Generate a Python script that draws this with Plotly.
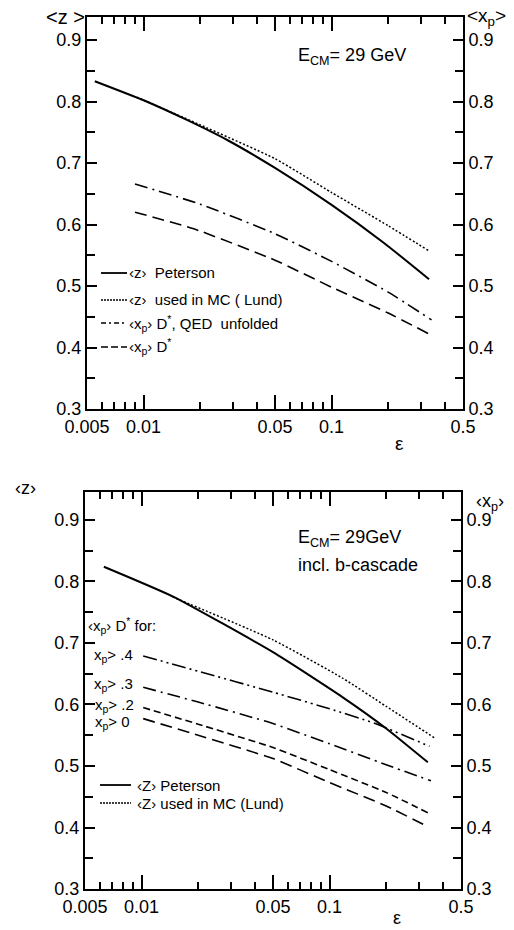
import plotly.graph_objects as go
import math

# ---------------- data ----------------
# Top panel
top_peterson_eps = [0.0055, 0.01, 0.017, 0.028, 0.05, 0.1, 0.19, 0.33]
top_peterson_z = [0.833, 0.802, 0.770, 0.737, 0.692, 0.632, 0.570, 0.511]
top_lund_eps = [0.0092, 0.02, 0.05, 0.1, 0.2, 0.33]
top_lund_z = [0.807, 0.762, 0.707, 0.652, 0.598, 0.557]
top_qed_eps = [0.009, 0.02, 0.05, 0.1, 0.2, 0.34]
top_qed_xp = [0.666, 0.633, 0.585, 0.540, 0.490, 0.445]
top_dstar_eps = [0.009, 0.0185, 0.05, 0.1, 0.2, 0.33]
top_dstar_xp = [0.620, 0.593, 0.542, 0.498, 0.456, 0.422]

# Bottom panel (incl. b-cascade)
bot_peterson_eps = [0.0063, 0.0148, 0.05, 0.117, 0.2, 0.333]
bot_peterson_z = [0.824, 0.775, 0.685, 0.612, 0.561, 0.506]
bot_lund_eps = [0.0146, 0.05, 0.117, 0.2, 0.36]
bot_lund_z = [0.775, 0.705, 0.643, 0.597, 0.546]
bot_xp04_eps = [0.0102, 0.02, 0.05, 0.1, 0.175, 0.34]
bot_xp04 = [0.679, 0.654, 0.620, 0.593, 0.569, 0.532]
bot_xp03_eps = [0.0102, 0.02, 0.05, 0.1, 0.2, 0.346]
bot_xp03 = [0.628, 0.604, 0.569, 0.536, 0.502, 0.476]
bot_xp02_eps = [0.0102, 0.02, 0.05, 0.1, 0.2, 0.333]
bot_xp02 = [0.595, 0.568, 0.530, 0.494, 0.457, 0.424]
bot_xp00_eps = [0.0102, 0.02, 0.05, 0.1, 0.2, 0.325]
bot_xp00 = [0.577, 0.550, 0.512, 0.473, 0.435, 0.403]

x_major_vals = [0.005, 0.01, 0.05, 0.1, 0.5]
x_major_text = ["0.005", "0.01", "0.05", "0.1", "0.5"]
x_minor_vals = [0.006, 0.007, 0.008, 0.009, 0.02, 0.03, 0.04,
                0.06, 0.07, 0.08, 0.09, 0.2, 0.3, 0.4]
y_vals = [0.3, 0.4, 0.5, 0.6, 0.7, 0.8, 0.9]
y_text = ["0.3", "0.4", "0.5", "0.6", "0.7", "0.8", "0.9"]

# ---------------- figure ----------------
W, H = 514, 930
FONT = "Liberation Sans"


def px(x):
    return x / W


def py(y):
    return 1 - y / H


fig = go.Figure()

SOLID = dict(color="black", width=2)
DOT = dict(color="black", width=1.5, dash="2px,2px")
DASHDOT = dict(color="black", width=1.6, dash="13px,5px,2px,5px")
DASH = dict(color="black", width=1.6, dash="12px,6px")
DASHDOTDOT = dict(color="black", width=1.6, dash="14px,4px,2px,4px,2px,4px")
SHORTDASH = dict(color="black", width=1.6, dash="7px,4px")


def add(xs, ys, line, xa, ya):
    fig.add_trace(go.Scatter(x=xs, y=ys, mode="lines",
                             line=dict(shape="spline", smoothing=0.5, **line),
                             xaxis=xa, yaxis=ya, showlegend=False, hoverinfo="skip"))


add(top_peterson_eps, top_peterson_z, SOLID, "x", "y")
add(top_lund_eps, top_lund_z, DOT, "x", "y")
add(top_qed_eps, top_qed_xp, DASHDOT, "x", "y")
add(top_dstar_eps, top_dstar_xp, DASH, "x", "y")

add(bot_peterson_eps, bot_peterson_z, SOLID, "x2", "y3")
add(bot_lund_eps, bot_lund_z, DOT, "x2", "y3")
add(bot_xp04_eps, bot_xp04, DASHDOTDOT, "x2", "y3")
add(bot_xp03_eps, bot_xp03, DASHDOT, "x2", "y3")
add(bot_xp02_eps, bot_xp02, SHORTDASH, "x2", "y3")
add(bot_xp00_eps, bot_xp00, DASH, "x2", "y3")

# empty traces so the overlay axes (top / right frames) are created
for xa, ya in [("x3", "y"), ("x", "y2"), ("x4", "y3"), ("x2", "y4")]:
    fig.add_trace(go.Scatter(x=[], y=[], xaxis=xa, yaxis=ya, showlegend=False, hoverinfo="skip"))

xr = [math.log10(0.005), math.log10(0.5)]
top_yr = [0.3, 0.9374]
bot_yr = [0.3, 0.9455]
top_xdom = [px(87), px(463)]
top_ydom = [py(409), py(17)]
bot_xdom = [px(85), px(461)]
bot_ydom = [py(889), py(492)]

tickfont = dict(family=FONT, size=18, color="black")


def xaxis(dom, anchor, side, labels, overlay=None):
    d = dict(domain=dom, anchor=anchor, side=side, type="log", range=xr,
             tickmode="array", tickvals=x_major_vals, ticktext=x_major_text,
             ticks="inside", ticklen=14, tickwidth=1.5, tickcolor="black",
             minor=dict(tickmode="array", tickvals=x_minor_vals, ticks="inside",
                        ticklen=7, tickwidth=1.5, tickcolor="black"),
             showticklabels=labels, tickfont=tickfont, automargin=False,
             showline=True, linewidth=2, linecolor="black",
             showgrid=False, zeroline=False, fixedrange=True)
    if overlay:
        d["overlaying"] = overlay
    return d


def yaxis(dom, anchor, side, rng, overlay=None):
    d = dict(domain=dom, anchor=anchor, side=side, range=rng,
             tickmode="array", tickvals=y_vals, ticktext=y_text,
             ticks="inside", ticklen=10, tickwidth=1.5, tickcolor="black",
             minor=dict(dtick=0.05, tick0=0.3, ticks="inside", ticklen=8,
                        tickwidth=1.5, tickcolor="black"),
             showticklabels=True, tickfont=tickfont, ticklabelstandoff=0,
             automargin=False,
             showline=True, linewidth=2, linecolor="black",
             showgrid=False, zeroline=False, fixedrange=True)
    if overlay:
        d["overlaying"] = overlay
    return d


fig.update_layout(
    width=W, height=H, autosize=False,
    margin=dict(l=0, r=0, t=0, b=0, pad=0, autoexpand=False),
    paper_bgcolor="white", plot_bgcolor="white",
    showlegend=False,
    font=dict(family=FONT, color="black"),
    xaxis=xaxis(top_xdom, "y", "bottom", True),
    xaxis3=xaxis(top_xdom, "y", "top", False, overlay="x"),
    yaxis=yaxis(top_ydom, "x", "left", top_yr),
    yaxis2=yaxis(top_ydom, "x", "right", top_yr, overlay="y"),
    xaxis2=xaxis(bot_xdom, "y3", "bottom", True),
    xaxis4=xaxis(bot_xdom, "y3", "top", False, overlay="x2"),
    yaxis3=yaxis(bot_ydom, "x2", "left", bot_yr),
    yaxis4=yaxis(bot_ydom, "x2", "right", bot_yr, overlay="y3"),
)

annotations = []


def text(x, y, s, size=14, anchor="left"):
    annotations.append(dict(x=px(x), y=py(y), xref="paper", yref="paper", text=s,
                            showarrow=False, xanchor=anchor, yanchor="middle",
                            font=dict(family=FONT, size=size, color="black")))


# axis titles
text(44, 17, "&lt;z &gt;", 20)
text(465, 17, "&lt;x<sub>p</sub>&gt;", 19)
text(393, 443, "ε", 19)
text(13, 488, "‹z›", 18)
text(474, 502, "‹x<sub>p</sub>›", 18)
text(391, 918, "ε", 18)

# top annotations
text(296, 57, "E<sub>CM</sub>= 29 GeV", 18)
# bottom annotations
text(296, 538, "E<sub>CM</sub>= 29GeV", 18)
text(296, 565, "incl. b-cascade", 18)
text(86, 625, "‹x<sub>p</sub>› D<sup>*</sup> for:", 15)
text(92, 655, "x<sub>p</sub>&gt; .4", 15)
text(92, 684, "x<sub>p</sub>&gt; .3", 15)
text(93, 705, "x<sub>p</sub>&gt; .2", 15)
text(93, 722, "x<sub>p</sub>&gt; 0", 15)

# legend sample lines
shapes = []


def legline(x0, x1, y, line):
    shapes.append(dict(type="line", xref="paper", yref="paper",
                       x0=px(x0), x1=px(x1), y0=py(y), y1=py(y), line=line))


legline(101, 127, 273, dict(color="black", width=1.8))
text(127, 273, "‹z›  Peterson", 15)
legline(101, 127, 300, dict(color="black", width=1.5, dash="2px,1px"))
text(127, 300, "‹z›  used in MC ( Lund)", 15)
legline(101, 127, 323, dict(color="black", width=1.5, dash="5px,3px,2px,3px"))
text(127, 323, "‹x<sub>p</sub>› D<sup>*</sup>, QED  unfolded", 15)
legline(101, 127, 347, dict(color="black", width=1.5, dash="7px,3px"))
text(127, 347, "‹x<sub>p</sub>› D<sup>*</sup>", 15)

legline(100, 131, 785, dict(color="black", width=1.8))
text(135, 785, "‹Z› Peterson", 15)
legline(100, 131, 803, dict(color="black", width=1.5, dash="2px,1px"))
text(135, 803, "‹Z› used in MC (Lund)", 15)

fig.update_layout(annotations=annotations, shapes=shapes)

fig.write_html("out.html")
